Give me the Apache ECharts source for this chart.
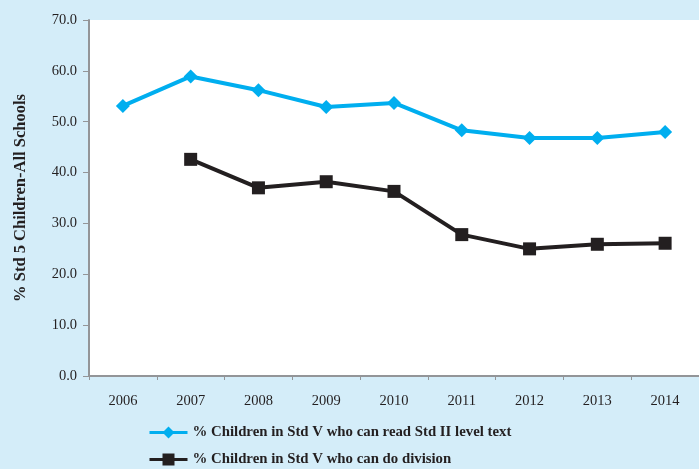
<!DOCTYPE html>
<html>
<head>
<meta charset="utf-8">
<script src="https://cdn.jsdelivr.net/npm/echarts@6/dist/echarts.min.js"></script>
<style>
html,body{margin:0;padding:0;background:#d4edf9;}
#c{width:699px;height:469px;}
</style>
</head>
<body>
<div id="c"></div>
<script>
const years = ['2006','2007','2008','2009','2010','2011','2012','2013','2014'];
const readText = [53.1, 58.9, 56.2, 52.9, 53.7, 48.3, 46.8, 46.8, 48.0];
const division = [null, 42.6, 37.0, 38.2, 36.3, 27.8, 25.0, 25.9, 26.1];
const seriesNames = ['% Children in Std V who can read Std II level text', '% Children in Std V who can do division'];
const yAxisTitle = '% Std 5 Children-All Schools';

const font = '"Liberation Serif", "Times New Roman", serif';
const chart = echarts.init(document.getElementById('c'));
chart.setOption({
  backgroundColor: '#d4edf9',
  animation: false,
  grid: {left: 89, right: -2, top: 20, bottom: 93, backgroundColor: '#ffffff', show: true, borderWidth: 0},
  xAxis: {
    type: 'category', data: years, boundaryGap: true,
    axisLine: {lineStyle: {color: '#939598', width: 2}},
    axisTick: {show: true, length: 4, lineStyle: {color: '#939598', width: 1}},
    axisLabel: {color: '#231f20', fontFamily: font, fontSize: 14.5, margin: 18}
  },
  yAxis: {
    type: 'value', min: 0, max: 70, interval: 10,
    name: yAxisTitle, nameLocation: 'middle', nameGap: 60, nameRotate: 90,
    nameTextStyle: {color: '#231f20', fontFamily: font, fontSize: 16.5, fontWeight: 'bold'},
    axisLine: {show: true, lineStyle: {color: '#939598', width: 2}},
    axisTick: {show: true, length: 6, lineStyle: {color: '#939598', width: 1}},
    splitLine: {show: false},
    axisLabel: {color: '#231f20', fontFamily: font, fontSize: 14.5, margin: 12, formatter: v => v.toFixed(1)}
  },
  legend: {
    orient: 'vertical', left: 148, top: 425, padding: 0, itemGap: 12, itemWidth: 38, itemHeight: 15,
    lineStyle: {width: 3},
    textStyle: {color: '#231f20', fontFamily: font, fontSize: 14.8, fontWeight: 'bold'},
    data: seriesNames
  },
  series: [
    {name: seriesNames[0], type: 'line', data: readText, symbol: 'diamond', symbolSize: 14,
     lineStyle: {color: '#00aeef', width: 4}, itemStyle: {color: '#00aeef'}},
    {name: seriesNames[1], type: 'line', data: division, symbol: 'rect', symbolSize: 13,
     lineStyle: {color: '#231f20', width: 4}, itemStyle: {color: '#231f20'}}
  ]
});
</script>
</body>
</html>
